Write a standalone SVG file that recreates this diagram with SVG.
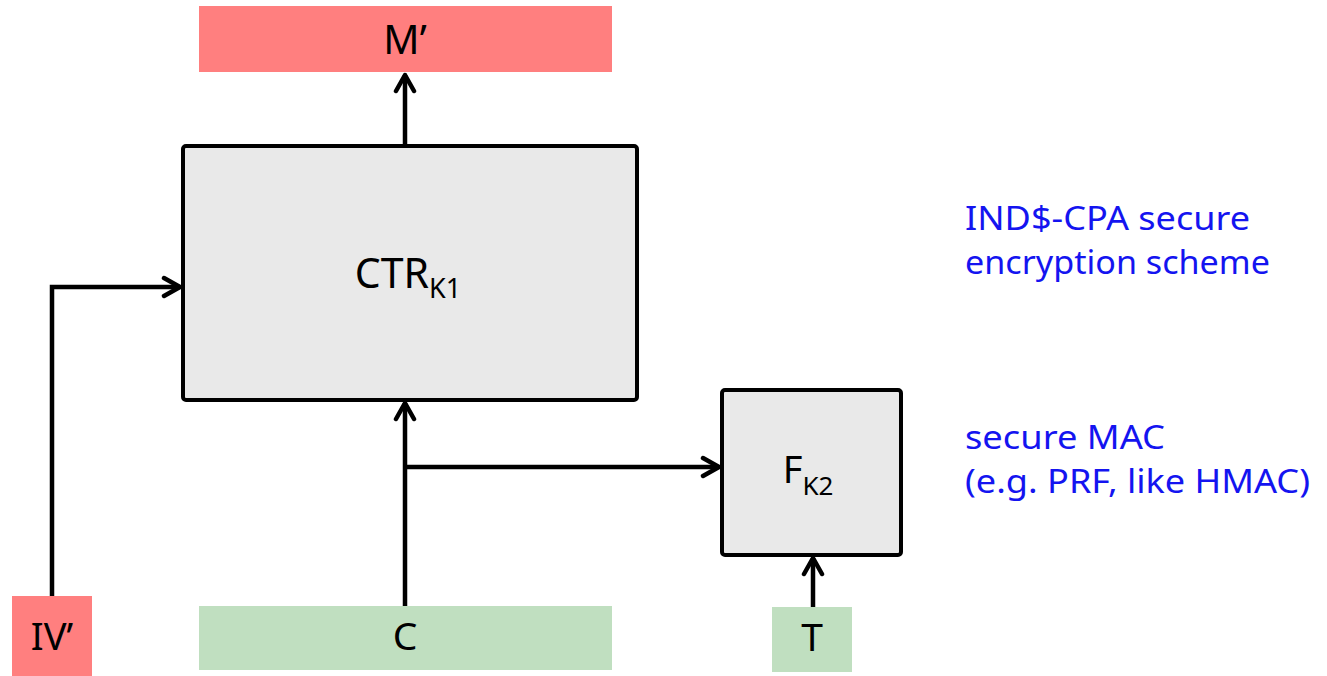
<svg xmlns="http://www.w3.org/2000/svg" width="1327" height="676" viewBox="0 0 1327 676">
<defs>
<style>
.box{fill:#E9E9E9;stroke:#000;stroke-width:4;stroke-linejoin:round}
.red{fill:#FF7F7F}
.green{fill:#C0DFC0}
.lbl{font-family:"Noto Sans","Open Sans",sans-serif;fill:#000;text-anchor:middle}
.note{font-family:"Noto Sans","Open Sans",sans-serif;fill:#1414F0;font-size:32px}
.wire{fill:none;stroke:#000;stroke-width:4.5;stroke-linejoin:miter}
</style>
<marker id="arrb" viewBox="0 0 24 24" refX="21" refY="12" markerWidth="24" markerHeight="24" markerUnits="userSpaceOnUse" orient="auto">
<path d="M5,3 L21,12 L5,21" fill="none" stroke="#000" stroke-width="4.5" stroke-linecap="round" stroke-linejoin="round"/>
</marker>
</defs>
<g id="connectors">
<path class="wire" d="M405,146 V75" marker-end="url(#arrb)"/>
<path class="wire" d="M52,596 V287 H180" marker-end="url(#arrb)"/>
<path class="wire" d="M405,606 V403" marker-end="url(#arrb)"/>
<path class="wire" d="M405,467 H719" marker-end="url(#arrb)"/>
<path class="wire" d="M813,607 V558" marker-end="url(#arrb)"/>
</g>
<g id="node-mprime">
<rect class="red" x="199" y="6" width="413" height="66"/>
<text class="lbl" x="405" y="54" font-size="40">M’</text>
</g>
<g id="node-ctr">
<rect class="box" x="183" y="146" width="454" height="254" rx="3"/>
<text class="lbl" x="408" y="288" font-size="41">CTR<tspan font-size="27" dy="10">K1</tspan></text>
</g>
<g id="node-f">
<rect class="box" x="722" y="390" width="179" height="165" rx="3"/>
<text class="lbl" x="808" y="483" font-size="38">F<tspan font-size="26" dy="12">K2</tspan></text>
</g>
<g id="node-iv">
<rect class="red" x="12" y="596" width="80" height="80"/>
<text class="lbl" x="52" y="650" font-size="38">IV’</text>
</g>
<g id="node-c">
<rect class="green" x="199" y="606" width="413" height="64"/>
<text class="lbl" x="405" y="650" font-size="39">C</text>
</g>
<g id="node-t">
<rect class="green" x="772" y="607" width="80" height="65"/>
<text class="lbl" x="812" y="651" font-size="39">T</text>
</g>
<g id="notes">
<text class="note" x="965" y="230" textLength="285" lengthAdjust="spacingAndGlyphs">IND$-CPA secure</text>
<text class="note" x="965" y="274" textLength="305" lengthAdjust="spacingAndGlyphs">encryption scheme</text>
<text class="note" x="965" y="449" textLength="200" lengthAdjust="spacingAndGlyphs">secure MAC</text>
<text class="note" x="965" y="493" textLength="345" lengthAdjust="spacingAndGlyphs">(e.g. PRF, like HMAC)</text>
</g>
</svg>
